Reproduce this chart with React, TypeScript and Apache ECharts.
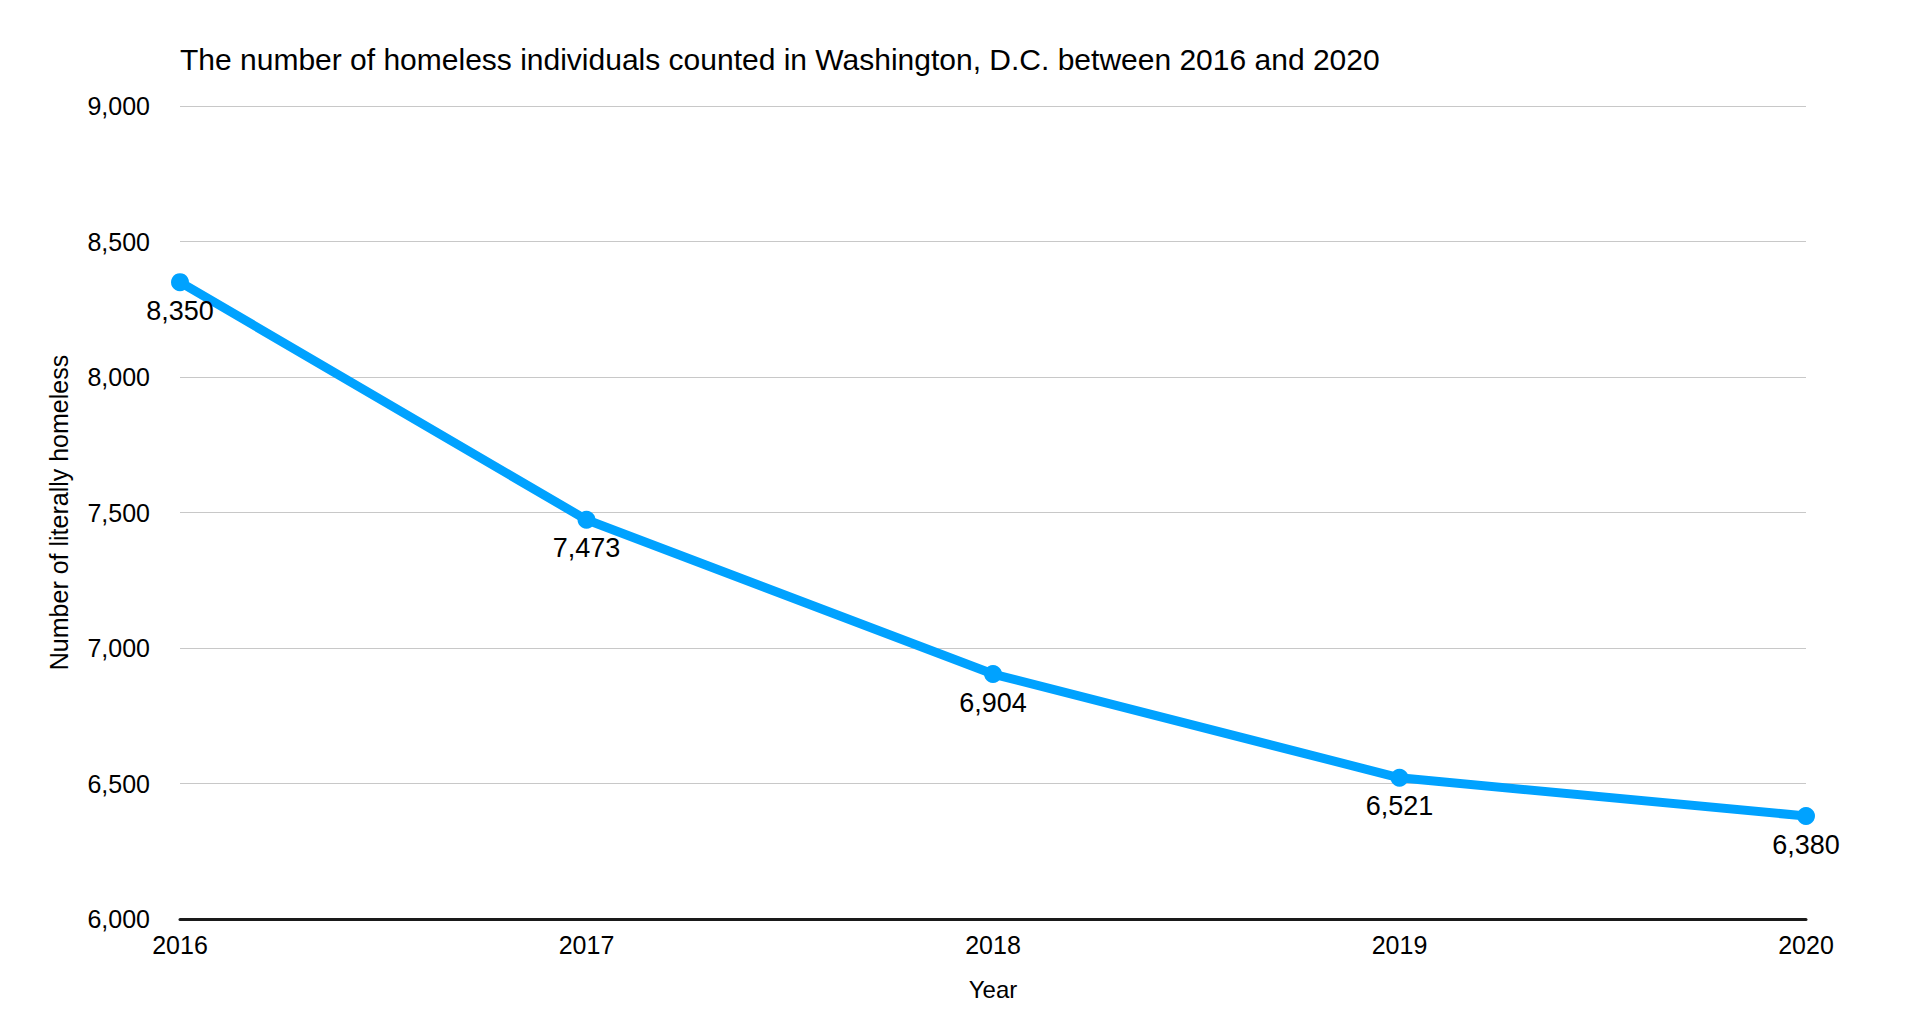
import React, { useEffect, useRef } from "react";
import * as echarts from "echarts";

const TITLE = "The number of homeless individuals counted in Washington, D.C. between 2016 and 2020";
const years = ["2016", "2017", "2018", "2019", "2020"];
const homeless = [8350, 7473, 6904, 6521, 6380];
const yMin = 6000;
const yMax = 9000;
const yStep = 500;
const X_NAME = "Year";
const Y_NAME = "Number of literally homeless";

const FONT = "'Liberation Sans', Arial, Helvetica, sans-serif";
const fmt = (v: number) => v.toLocaleString("en-US");

export default function App() {
  const ref = useRef<HTMLDivElement>(null);
  useEffect(() => {
    if (!ref.current) return;
    const chart = echarts.init(ref.current, null, { renderer: "svg" });
    chart.setOption({
      animation: false,
      backgroundColor: "#ffffff",
      textStyle: { fontFamily: FONT },
      title: {
        text: TITLE,
        left: 180,
        top: 44,
        padding: 0,
        textStyle: { fontFamily: FONT, fontSize: 30, fontWeight: "normal", color: "#000" },
      },
      grid: { left: 180, right: 100, top: 106, bottom: 117, containLabel: false },
      xAxis: {
        type: "category",
        data: years,
        boundaryGap: false,
        name: X_NAME,
        nameLocation: "middle",
        nameGap: 58,
        nameTextStyle: { fontFamily: FONT, fontSize: 24, color: "#000" },
        axisLine: { show: true, lineStyle: { color: "#1a1a1a", width: 3 } },
        axisTick: { show: false },
        axisLabel: { fontFamily: FONT, fontSize: 25, color: "#000", margin: 13 },
        splitLine: { show: false },
      },
      yAxis: {
        type: "value",
        min: yMin,
        max: yMax,
        interval: yStep,
        name: Y_NAME,
        nameLocation: "middle",
        nameRotate: 90,
        nameGap: 109,
        nameTextStyle: { fontFamily: FONT, fontSize: 25, color: "#000" },
        axisLine: { show: false },
        axisTick: { show: false },
        axisLabel: { fontFamily: FONT, fontSize: 25, color: "#000", margin: 30, formatter: (v: number) => fmt(v) },
        splitLine: { show: true, lineStyle: { color: "#c8c8c8", width: 1 } },
      },
      series: [
        {
          type: "line",
          data: homeless,
          symbol: "circle",
          symbolSize: 18,
          lineStyle: { color: "#00a2ff", width: 9 },
          itemStyle: { color: "#00a2ff" },
          label: {
            show: true,
            position: "bottom",
            distance: 6,
            fontFamily: FONT,
            fontSize: 27,
            color: "#000",
            formatter: (p: any) => fmt(p.value),
          },
        },
      ],
    });
    return () => chart.dispose();
  }, []);
  return (
    <div
      ref={ref}
      style={{ position: "fixed", left: 0, top: 0, width: 1906, height: 1036, background: "#fff" }}
    />
  );
}
